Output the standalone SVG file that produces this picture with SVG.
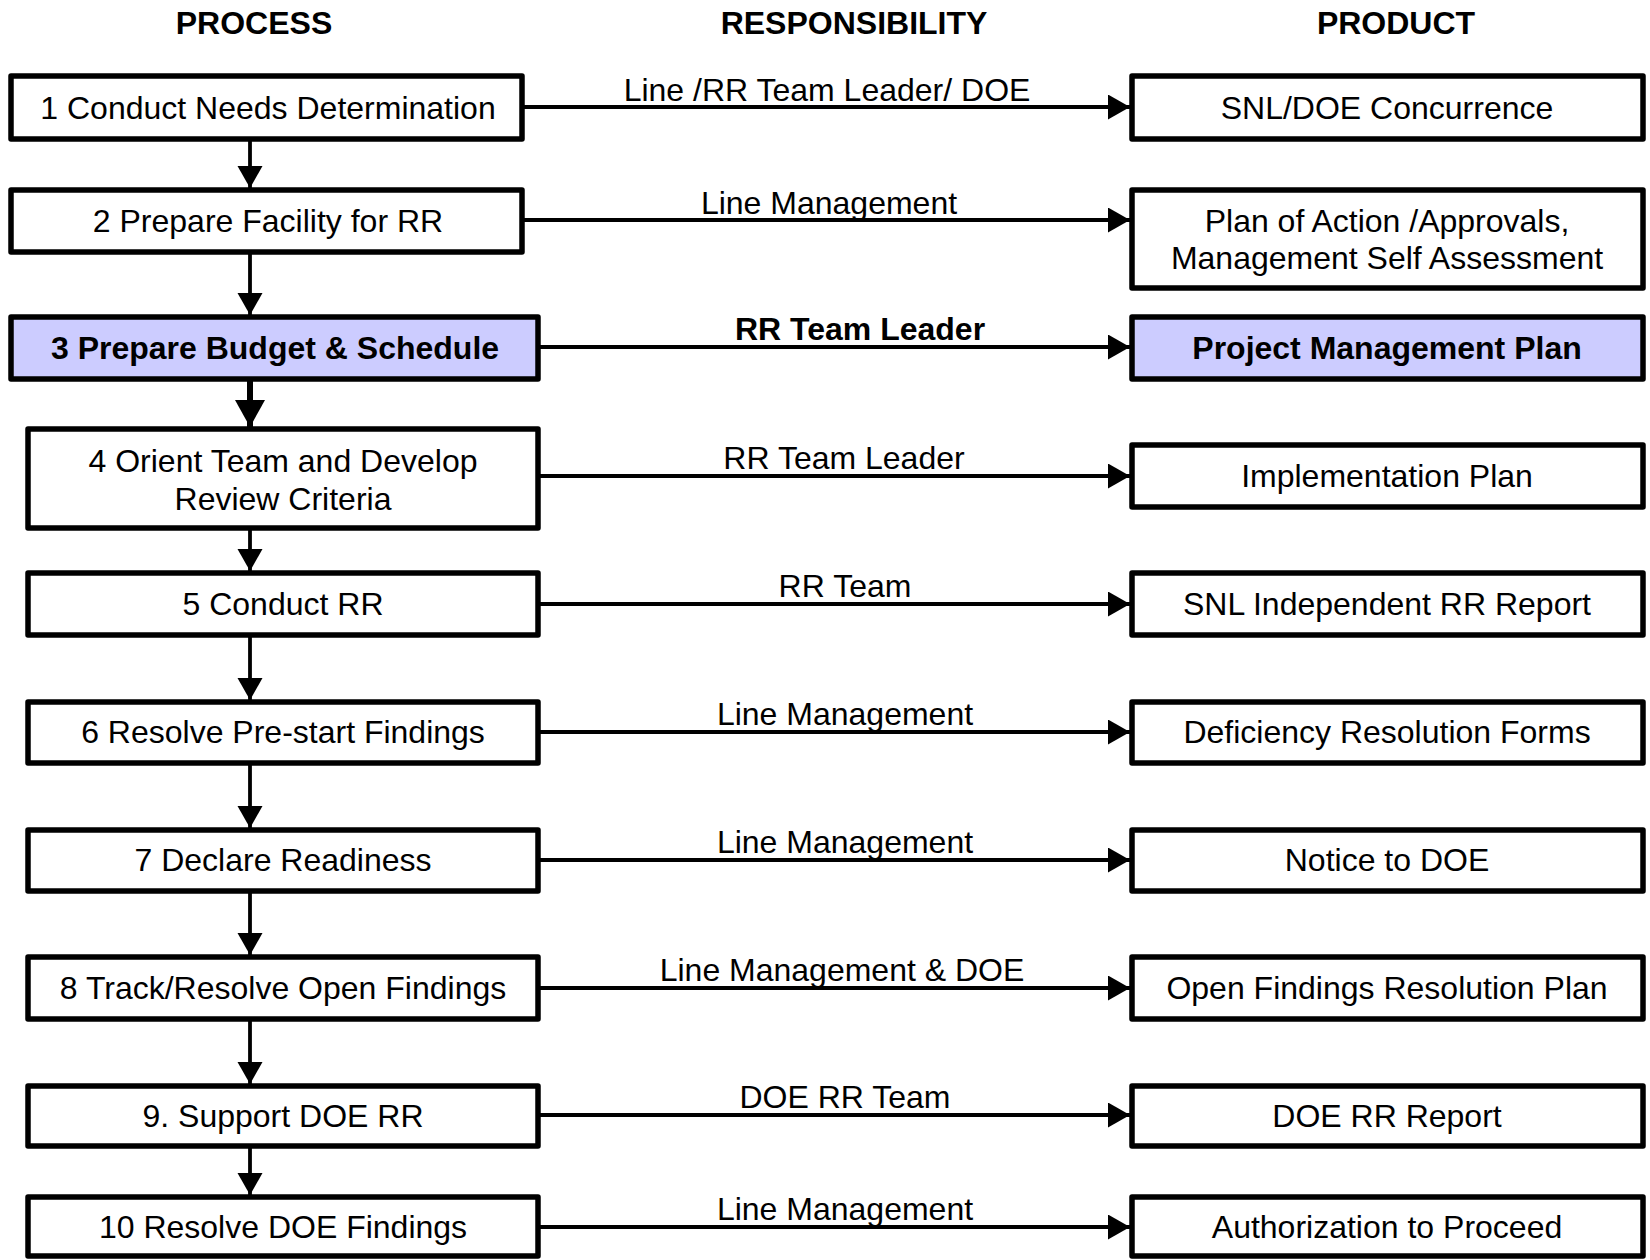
<svg xmlns="http://www.w3.org/2000/svg" width="1650" height="1260" viewBox="0 0 1650 1260">
<style>
.box{fill:#fff;stroke:#000;stroke-width:5.5;stroke-linejoin:round}
.hl{fill:#ccccff;stroke:#000;stroke-width:5.5;stroke-linejoin:round}
.t{font-family:"Liberation Sans",Arial,sans-serif;font-size:32px;fill:#000;text-anchor:middle}
.b{font-weight:bold}
.c{stroke:#000;stroke-width:3.8;fill:none}
</style>
<defs>
<marker id="ah" markerUnits="userSpaceOnUse" markerWidth="26" markerHeight="26" refX="22" refY="12.5" orient="auto">
<path d="M0,0 L22,12.5 L0,25 Z" fill="#000"/>
</marker>
<marker id="ahb" markerUnits="userSpaceOnUse" markerWidth="32" markerHeight="32" refX="27" refY="15" orient="auto">
<path d="M0,0 L27,15 L0,30 Z" fill="#000"/>
</marker>
</defs>
<g id="headers">
<text class="t b" x="254" y="34">PROCESS</text>
<text class="t b" x="854" y="34">RESPONSIBILITY</text>
<text class="t b" x="1396" y="34">PRODUCT</text>
</g>
<g id="connectors">
<line class="c" x1="250" y1="141" x2="250" y2="188" marker-end="url(#ah)"/>
<line class="c" x1="250" y1="254" x2="250" y2="315" marker-end="url(#ah)"/>
<line class="c" x1="250" y1="381" x2="250" y2="427" marker-end="url(#ahb)" style="stroke-width:6"/>
<line class="c" x1="250" y1="522" x2="250" y2="571" marker-end="url(#ah)" style="stroke-linecap:round"/>
<line class="c" x1="250" y1="637" x2="250" y2="700" marker-end="url(#ah)"/>
<line class="c" x1="250" y1="765" x2="250" y2="828" marker-end="url(#ah)"/>
<line class="c" x1="250" y1="893" x2="250" y2="955" marker-end="url(#ah)"/>
<line class="c" x1="250" y1="1021" x2="250" y2="1084" marker-end="url(#ah)"/>
<line class="c" x1="250" y1="1148" x2="250" y2="1195" marker-end="url(#ah)"/>
<line class="c" x1="524" y1="107" x2="1130" y2="107" marker-end="url(#ah)"/>
<line class="c" x1="524" y1="220" x2="1130" y2="220" marker-end="url(#ah)"/>
<line class="c" x1="540" y1="347" x2="1130" y2="347" marker-end="url(#ah)"/>
<line class="c" x1="540" y1="476" x2="1130" y2="476" marker-end="url(#ah)"/>
<line class="c" x1="540" y1="604" x2="1130" y2="604" marker-end="url(#ah)"/>
<line class="c" x1="540" y1="732" x2="1130" y2="732" marker-end="url(#ah)"/>
<line class="c" x1="540" y1="860" x2="1130" y2="860" marker-end="url(#ah)"/>
<line class="c" x1="540" y1="988" x2="1130" y2="988" marker-end="url(#ah)"/>
<line class="c" x1="540" y1="1115" x2="1130" y2="1115" marker-end="url(#ah)"/>
<line class="c" x1="540" y1="1227" x2="1130" y2="1227" marker-end="url(#ah)"/>
<text class="t" x="827" y="101">Line /RR Team Leader/ DOE</text>
<text class="t" x="829" y="214">Line Management</text>
<text class="t b" x="860" y="340">RR Team Leader</text>
<text class="t" x="844" y="469">RR Team Leader</text>
<text class="t" x="845" y="597">RR Team</text>
<text class="t" x="845" y="725">Line Management</text>
<text class="t" x="845" y="853">Line Management</text>
<text class="t" x="842" y="981">Line Management &amp; DOE</text>
<text class="t" x="845" y="1108">DOE RR Team</text>
<text class="t" x="845" y="1220">Line Management</text>
</g>
<g id="p1"><rect class="box" x="11" y="76" width="511" height="63"/><text class="t" x="268" y="119">1 Conduct Needs Determination</text></g>
<g id="p2"><rect class="box" x="11" y="190" width="511" height="62"/><text class="t" x="268" y="232">2 Prepare Facility for RR</text></g>
<g id="p3"><rect class="hl" x="11" y="317" width="527" height="62"/><text class="t b" x="275" y="359">3 Prepare Budget &amp; Schedule</text></g>
<g id="p4"><rect class="box" x="28" y="429" width="510" height="99"/><text class="t" x="283" y="472">4 Orient Team and Develop</text><text class="t" x="283" y="510">Review Criteria</text></g>
<g id="p5"><rect class="box" x="28" y="573" width="510" height="62"/><text class="t" x="283" y="615">5 Conduct RR</text></g>
<g id="p6"><rect class="box" x="28" y="702" width="510" height="61"/><text class="t" x="283" y="743">6 Resolve Pre-start Findings</text></g>
<g id="p7"><rect class="box" x="28" y="830" width="510" height="61"/><text class="t" x="283" y="871">7 Declare Readiness</text></g>
<g id="p8"><rect class="box" x="28" y="957" width="510" height="62"/><text class="t" x="283" y="999">8 Track/Resolve Open Findings</text></g>
<g id="p9"><rect class="box" x="28" y="1086" width="510" height="60"/><text class="t" x="283" y="1127">9. Support DOE RR</text></g>
<g id="p10"><rect class="box" x="28" y="1197" width="510" height="59"/><text class="t" x="283" y="1238">10 Resolve DOE Findings</text></g>
<g id="r1"><rect class="box" x="1132" y="76" width="511" height="63"/><text class="t" x="1387" y="119">SNL/DOE Concurrence</text></g>
<g id="r2"><rect class="box" x="1132" y="190" width="511" height="98"/><text class="t" x="1387" y="232">Plan of Action /Approvals,</text><text class="t" x="1387" y="269">Management Self Assessment</text></g>
<g id="r3"><rect class="hl" x="1132" y="317" width="511" height="62"/><text class="t b" x="1387" y="359">Project Management Plan</text></g>
<g id="r4"><rect class="box" x="1132" y="445" width="511" height="62"/><text class="t" x="1387" y="487">Implementation Plan</text></g>
<g id="r5"><rect class="box" x="1132" y="573" width="511" height="62"/><text class="t" x="1387" y="615">SNL Independent RR Report</text></g>
<g id="r6"><rect class="box" x="1132" y="702" width="511" height="61"/><text class="t" x="1387" y="743">Deficiency Resolution Forms</text></g>
<g id="r7"><rect class="box" x="1132" y="830" width="511" height="61"/><text class="t" x="1387" y="871">Notice to DOE</text></g>
<g id="r8"><rect class="box" x="1132" y="957" width="511" height="62"/><text class="t" x="1387" y="999">Open Findings Resolution Plan</text></g>
<g id="r9"><rect class="box" x="1132" y="1086" width="511" height="60"/><text class="t" x="1387" y="1127">DOE RR Report</text></g>
<g id="r10"><rect class="box" x="1132" y="1197" width="511" height="59"/><text class="t" x="1387" y="1238">Authorization to Proceed</text></g>
</svg>
